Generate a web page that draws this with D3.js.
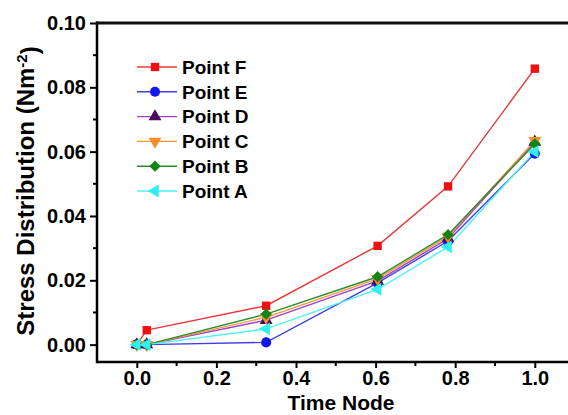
<!DOCTYPE html>
<html>
<head>
<meta charset="utf-8">
<script src="https://cdn.jsdelivr.net/npm/d3@7/dist/d3.min.js"></script>
<style>
  html, body { margin: 0; padding: 0; background: #fff; }
  svg { display: block; }
  text { font-family: Arial, "Liberation Sans", sans-serif; font-weight: bold; fill: #000; }
</style>
</head>
<body>
<svg id="chart" width="568" height="415"></svg>
<script>
// Time nodes shared by every series
const timeNodes = [0, 0.025, 0.325, 0.605, 0.782, 1.0];

// Stress values (N m^-2) per monitoring point
const pointF = [0, 0.0045, 0.0121, 0.0307, 0.0492, 0.0858];
const pointE = [0, 0, 0.0007, 0.0192, 0.0322, 0.0594];
const pointD = [0, 0, 0.0076, 0.0198, 0.0330, 0.0630];
const pointC = [0, 0, 0.0085, 0.0205, 0.0336, 0.0634];
const pointB = [0, 0, 0.0095, 0.0211, 0.0342, 0.0624];
const pointA = [0, 0, 0.0049, 0.0172, 0.0304, 0.0600];

const seriesNames = ["Point F", "Point E", "Point D", "Point C", "Point B", "Point A"];
const xTickValues = [0, 0.2, 0.4, 0.6, 0.8, 1.0];
const yTickValues = [0, 0.02, 0.04, 0.06, 0.08, 0.10];

const seriesValues = [pointF, pointE, pointD, pointC, pointB, pointA];
const lineColors = ["#e8383a", "#3f3fe8", "#a23fc8", "#f5963c", "#2a8c2a", "#4ff2f2"];
const markColors = ["#ee1111", "#1515ee", "#4a0a60", "#f5902a", "#138413", "#30f0f0"];
const markShapes = ["square", "circle", "tup", "tdown", "diamond", "tleft"];

const svg = d3.select("#chart");
const plot = { left: 97, top: 23, bottom: 362, right: 568 };

const x = d3.scaleLinear().domain([-0.1, 1.1]).range([plot.left, plot.left + (535 - 137) * 1.2]);
const y = d3.scaleLinear().domain([-0.0054, 0.10]).range([plot.bottom, plot.top]);

// Minor ticks
const yMinor = d3.range(0.01, 0.10, 0.02);
const xMinor = [0.1, 0.3, 0.5, 0.7, 0.9];

const gx = svg.append("g").attr("transform", `translate(0,${plot.bottom})`);
gx.call(d3.axisBottom(x).tickValues(xTickValues).tickFormat(d3.format(".1f")).tickSize(6).tickSizeOuter(0).tickPadding(3));
gx.append("g").selectAll("line").data(xMinor).join("line")
  .attr("x1", d => x(d)).attr("x2", d => x(d)).attr("y1", 0).attr("y2", 4)
  .attr("stroke", "#000").attr("stroke-width", 2);

const gy = svg.append("g").attr("transform", `translate(${plot.left},0)`);
gy.call(d3.axisLeft(y).tickValues(yTickValues).tickFormat(d3.format(".2f")).tickSize(7).tickSizeOuter(0).tickPadding(4));
gy.append("g").selectAll("line").data(yMinor).join("line")
  .attr("x1", 0).attr("x2", -4).attr("y1", d => y(d)).attr("y2", d => y(d))
  .attr("stroke", "#000").attr("stroke-width", 2);

[gx, gy].forEach(g => {
  g.select(".domain").remove();
  g.selectAll(".tick line").attr("stroke", "#000").attr("stroke-width", 2);
  g.selectAll(".tick text").style("font-size", "20px").style("font-weight", "bold").attr("fill", "#000");
});

// Frame lines
svg.append("line").attr("x1", plot.left).attr("x2", plot.right).attr("y1", plot.bottom).attr("y2", plot.bottom)
  .attr("stroke", "#000").attr("stroke-width", 2.5);
svg.append("line").attr("x1", plot.left).attr("x2", plot.left).attr("y1", plot.top - 1.5).attr("y2", plot.bottom + 1.2)
  .attr("stroke", "#000").attr("stroke-width", 2.5);
svg.append("line").attr("x1", plot.left - 1.2).attr("x2", plot.right).attr("y1", plot.top).attr("y2", plot.top)
  .attr("stroke", "#111").attr("stroke-width", 3);

function markPath(shape) {
  switch (shape) {
    case "square": return d3.symbol(d3.symbolSquare, 70)();
    case "circle": return d3.symbol(d3.symbolCircle, 80)();
    case "diamond": return d3.symbol(d3.symbolSquare, 64)();
    default: return d3.symbol(d3.symbolTriangle, 72)();
  }
}
function markRotate(shape) {
  if (shape === "tdown") return 180;
  if (shape === "tleft") return -90;
  if (shape === "diamond") return 45;
  return 0;
}

const line = d3.line().x(d => x(d[0])).y(d => y(d[1]));

seriesValues.forEach((vals, i) => {
  const pts = timeNodes.map((t, j) => [t, vals[j]]);
  svg.append("path").datum(pts).attr("d", line)
    .attr("fill", "none").attr("stroke", lineColors[i]).attr("stroke-width", 1.4);
});
seriesValues.forEach((vals, i) => {
  const pts = timeNodes.map((t, j) => [t, vals[j]]);
  svg.append("g").selectAll("path").data(pts).join("path")
    .attr("d", markPath(markShapes[i]))
    .attr("transform", d => `translate(${x(d[0])},${y(d[1])}) rotate(${markRotate(markShapes[i])})`)
    .attr("fill", markColors[i]);
});

// Legend
const legend = svg.append("g");
seriesNames.forEach((name, i) => {
  const ly = 67 + i * 24.8;
  const row = legend.append("g").attr("transform", `translate(0,${ly})`);
  row.append("line").attr("x1", 137).attr("x2", 177).attr("y1", 0).attr("y2", 0)
    .attr("stroke", lineColors[i]).attr("stroke-width", 1.4);
  row.append("path").attr("d", markPath(markShapes[i]))
    .attr("transform", `translate(155,0) rotate(${markRotate(markShapes[i])})`)
    .attr("fill", markColors[i]);
  row.append("text").attr("x", 182).attr("y", 0).attr("dy", "0.36em")
    .style("font-size", "19px").text(name);
});

// Axis titles
svg.append("text").attr("x", 341).attr("y", 410).attr("text-anchor", "middle")
  .style("font-size", "21px").text("Time Node");

const yTitle = svg.append("text").attr("transform", "translate(34,191) rotate(-90)")
  .attr("text-anchor", "middle").style("font-size", "24px");
yTitle.append("tspan").text("Stress Distribution (Nm");
yTitle.append("tspan").attr("dy", "-0.45em").style("font-size", "15px").text("-2");
yTitle.append("tspan").attr("dy", "0.45em").text(")");
</script>
</body>
</html>
